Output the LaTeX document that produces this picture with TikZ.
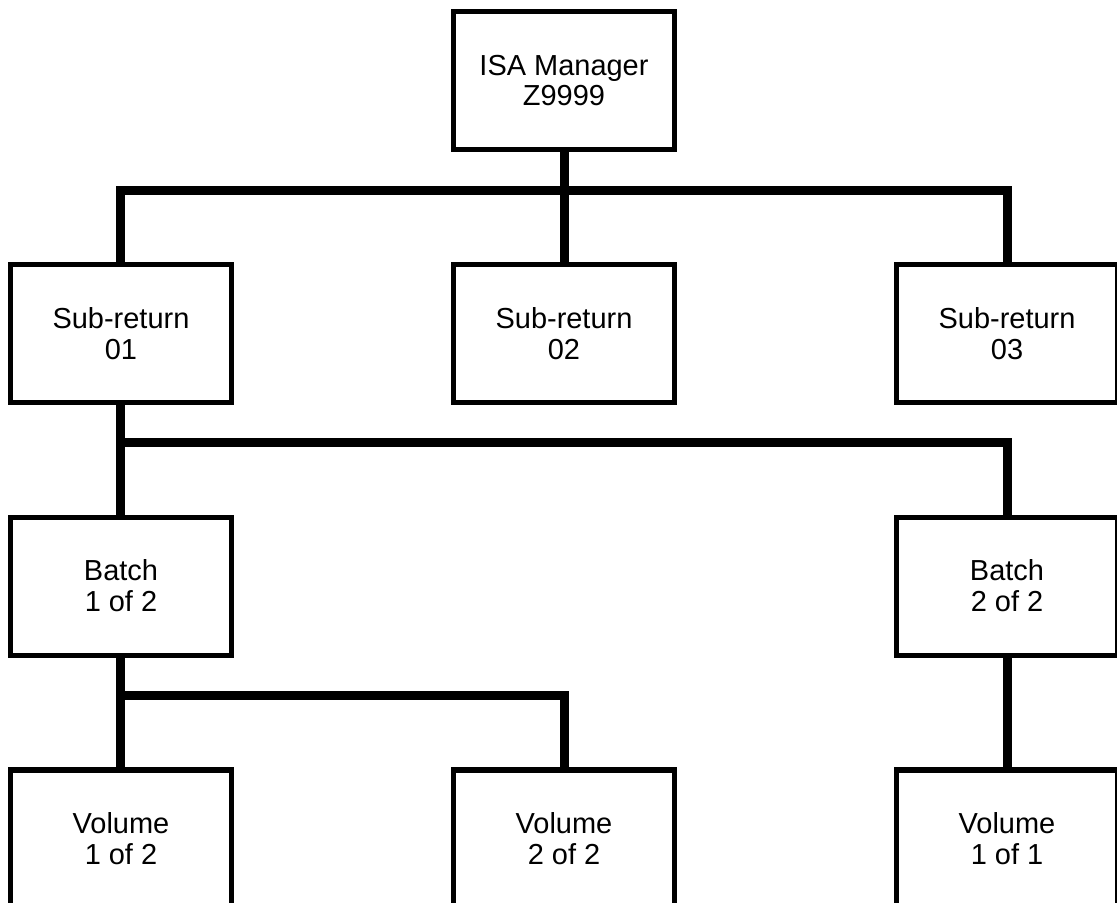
\documentclass[tikz,border=0pt]{standalone}
\usepackage{fontspec}
\setsansfont{Liberation Sans}
\usetikzlibrary{
    positioning,
    calc
}
\tikzset{
    % --- Tree entry (box with two-line label) ---
    entry/.style = {
        rectangle, draw, line width=3.7pt,
        minimum width=5.525cm, minimum height=3.45cm,
        font=\sffamily\fontsize{20.6pt}{22pt}\selectfont, align=center
    },
    % --- Heavy connector between levels ---
    link/.style = {
        line width=6.4pt, line join=miter
    }
}

\begin{document}
\begin{tikzpicture}[
    node distance=2.74cm and 5.42cm
]

% ---------------------------------------------------------
% Frame (picture is cut at the right and bottom edge)
% ---------------------------------------------------------
\path[use as bounding box, clip] (-14.1, 2.0125) rectangle (13.825, -20.5375);

% ---------------------------------------------------------
% Levels of the tree
% ---------------------------------------------------------
\node[entry] (Mgr) at (0, 0) {ISA Manager\\Z9999};

\node[entry, below=of Mgr] (Sub2) {Sub-return\\02};
\node[entry, left=of Sub2] (Sub1) {Sub-return\\01};
\node[entry, right=of Sub2] (Sub3) {Sub-return\\03};

\node[entry, below=of Sub1] (Batch1) {Batch\\1 of 2};
\node[entry, below=of Sub3] (Batch2) {Batch\\2 of 2};

\node[entry, below=of Batch1] (Vol1) {Volume\\1 of 2};
\node[entry, below=of Batch2] (Vol3) {Volume\\1 of 1};
\node[entry] (Vol2) at (Vol1 -| Sub2) {Volume\\2 of 2};

% ---------------------------------------------------------
% Bus lines
% ---------------------------------------------------------
\coordinate (busA) at ($(Mgr.south) + (0, -0.95)$);
\coordinate (busB) at ($(Sub1.south) + (0, -0.95)$);
\coordinate (busC) at ($(Batch1.south) + (0, -0.95)$);

% Manager -> sub-returns
\draw[link] (Mgr.south) -- (Sub2.north);
\draw[link] (Sub1.north) |- (busA -| Sub3) -- (Sub3.north);

% Sub-return 01 -> batches
\draw[link] (Sub1.south) -- (Batch1.north);
\draw[link] (busB -| Sub1) -- (busB -| Batch2) -- (Batch2.north);

% Batches -> volumes
\draw[link] (Batch1.south) -- (Vol1.north);
\draw[link] (busC -| Batch1) -- (busC -| Vol2) -- (Vol2.north);
\draw[link] (Batch2.south) -- (Vol3.north);

\end{tikzpicture}
\end{document}
